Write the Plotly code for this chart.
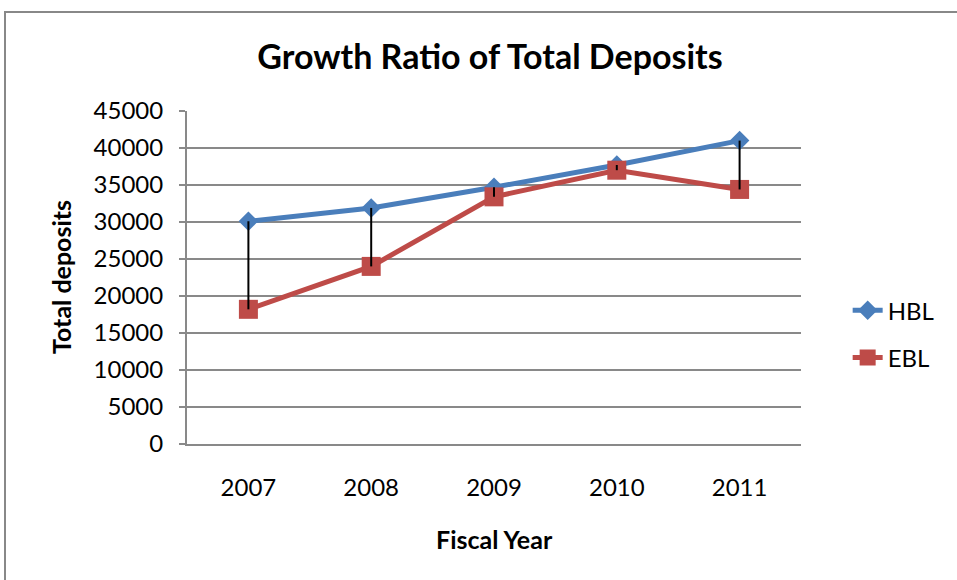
import plotly.graph_objects as go

# Fiscal years and total deposits per bank
years = ["2007", "2008", "2009", "2010", "2011"]
hbl = [30100, 31900, 34700, 37700, 41000]
ebl = [18200, 24000, 33400, 37000, 34400]

blue = "#4a7ebb"
red = "#be4b48"
grey = "#898989"
font_family = "Lato, 'Open Sans', sans-serif"

# High-low connectors between the two series for each year
hl_x, hl_y = [], []
for yr, h, e in zip(years, hbl, ebl):
    hl_x += [yr, yr, None]
    hl_y += [h, e, None]

fig = go.Figure()
fig.add_trace(go.Scatter(
    x=years, y=hbl, name="HBL", mode="lines+markers", legendgroup="hbl",
    line=dict(color=blue, width=5),
    marker=dict(symbol="diamond", size=15, color=blue),
))
fig.add_trace(go.Scatter(
    x=years, y=ebl, name="EBL", mode="lines+markers", legendgroup="ebl",
    line=dict(color=red, width=5),
    marker=dict(symbol="square", size=19, color=red),
))
fig.add_trace(go.Scatter(
    x=hl_x, y=hl_y, mode="lines", showlegend=False, hoverinfo="skip",
    line=dict(color="black", width=2),
))

fig.update_layout(
    width=957, height=580,
    margin=dict(l=187, r=156, t=111, b=136),
    paper_bgcolor="white", plot_bgcolor="white",
    font=dict(family=font_family, color="black", size=24),
    title=dict(
        text="<b>Growth Ratio of Total Deposits</b>",
        x=0.4935, xref="paper", xanchor="center",
        y=1 - 57 / 580, yanchor="middle",
        font=dict(size=34, family=font_family),
    ),
    legend=dict(
        x=1.076, xanchor="left", y=0.33, yanchor="middle",
        font=dict(size=24), tracegroupgap=13, bgcolor="rgba(0,0,0,0)",
    ),
    xaxis=dict(
        type="category", range=[-0.5, 4.5],
        showline=True, linecolor=grey, linewidth=2,
        showgrid=False, ticks="", ticklabelstandoff=21,
        tickfont=dict(size=24),
    ),
    yaxis=dict(
        range=[0, 45000], dtick=5000, tick0=0, tickformat="d",
        showline=True, linecolor=grey, linewidth=2,
        showgrid=True, gridcolor=grey, gridwidth=1.5,
        zeroline=False,
        ticks="outside", ticklen=6, tickcolor=grey, tickwidth=2,
        ticklabelstandoff=11, tickfont=dict(size=24),
    ),
    shapes=[dict(
        type="rect", xref="paper", yref="paper",
        x0=(5 - 187) / 614, x1=(962 - 187) / 614,
        y0=(444 - 590) / 333, y1=(444 - 12) / 333,
        line=dict(color="#888888", width=2), fillcolor="rgba(0,0,0,0)",
        layer="below",
    )],
    annotations=[
        dict(text="<b>Fiscal Year</b>", xref="paper", yref="paper",
             x=(494 - 187) / 614, y=(444 - 539) / 333,
             xanchor="center", yanchor="middle", showarrow=False,
             font=dict(size=25)),
        dict(text="<b>Total deposits</b>", xref="paper", yref="paper",
             x=(61 - 187) / 614, y=(444 - 277) / 333, textangle=-90,
             xanchor="center", yanchor="middle", showarrow=False,
             font=dict(size=25)),
    ],
)

fig.write_html("out.html")
